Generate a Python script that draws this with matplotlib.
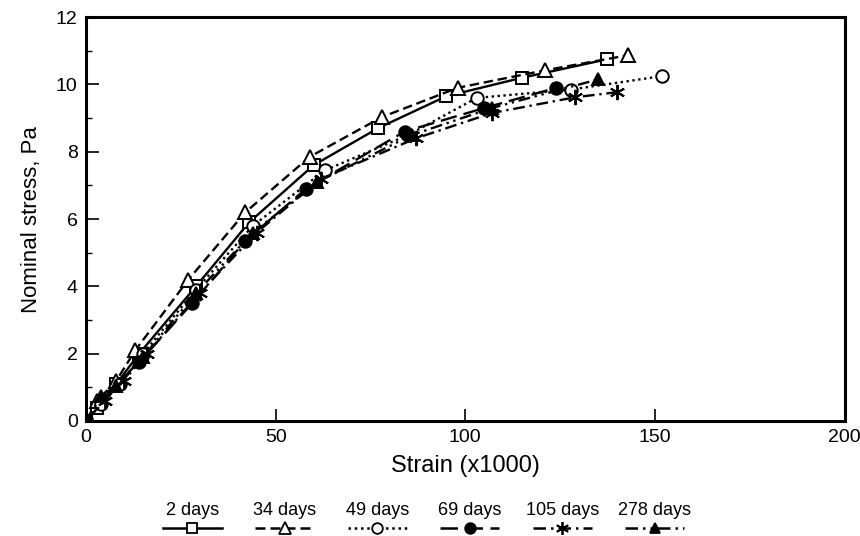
import matplotlib
matplotlib.use("Agg")
import matplotlib.pyplot as plt
from matplotlib.ticker import MultipleLocator

plt.rcParams['font.family'] = ['Liberation Sans', 'DejaVu Sans']

# ---- data ----
labels = ["2 days", "34 days", "49 days", "69 days", "105 days", "278 days"]

x_2 = [0, 3, 8, 14, 29, 43, 60, 77, 95, 115, 137.5]
y_2 = [0, 0.4, 1.1, 2.0, 4.0, 5.9, 7.6, 8.7, 9.65, 10.2, 10.75]

x_34 = [0, 3, 8, 13, 27, 42, 59, 78, 98, 121, 143]
y_34 = [0, 0.6, 1.2, 2.1, 4.2, 6.2, 7.85, 9.03, 9.9, 10.42, 10.87]

x_49 = [0, 4, 9, 15, 29, 44, 63, 85, 103, 128, 152]
y_49 = [0, 0.5, 1.1, 2.0, 3.9, 5.8, 7.45, 8.5, 9.6, 9.85, 10.25]

x_69 = [0, 14, 28, 42, 58, 84, 105, 124]
y_69 = [0, 1.75, 3.5, 5.35, 6.9, 8.6, 9.3, 9.9]

x_105 = [0, 5, 10, 16, 30, 45, 62, 87, 107, 129, 140]
y_105 = [0, 0.6, 1.2, 2.0, 3.8, 5.6, 7.2, 8.4, 9.15, 9.62, 9.77]

x_278 = [0, 4, 8, 15, 29, 44, 61, 86, 107, 135]
y_278 = [0, 0.75, 1.05, 1.9, 3.8, 5.6, 7.1, 8.5, 9.3, 10.15]

series_x = [x_2, x_34, x_49, x_69, x_105, x_278]
series_y = [y_2, y_34, y_49, y_69, y_105, y_278]

styles = [
    dict(ls='-', marker='s', mfc='white', ms=9),
    dict(ls=(0, (4, 2)), marker='^', mfc='white', ms=10),
    dict(ls=(0, (1, 1.5)), marker='o', mfc='white', ms=9),
    dict(ls=(0, (7, 3)), marker='o', mfc='black', ms=9),
    dict(ls=(0, (5, 2, 1, 2)), marker=(6, 2, 0), mfc='black', ms=11),
    dict(ls=(0, (5, 2, 1, 2, 1, 2)), marker='^', mfc='black', ms=9),
]

fig = plt.figure(figsize=(8.6, 5.36), dpi=100)
ax = fig.add_axes([0.1, 0.2146, 0.882, 0.7534])

for xs, ys, st in zip(series_x, series_y, styles):
    ax.plot(xs, ys, color='black', lw=1.7, mec='black', mew=1.4, **st)

ax.set_xlim(0, 200)
ax.set_ylim(0, 12)
ax.xaxis.set_major_locator(MultipleLocator(50))
ax.yaxis.set_major_locator(MultipleLocator(2))
ax.yaxis.set_minor_locator(MultipleLocator(1))
ax.tick_params(axis='both', which='major', direction='in', length=9, width=1.2,
               labelsize=14, top=False, right=False, pad=6)
ax.tick_params(axis='y', which='minor', direction='in', length=4, width=1.0, right=False)
for sp in ax.spines.values():
    sp.set_linewidth(2.2)
ax.set_xlabel("Strain (x1000)", fontsize=17, labelpad=6)
ax.set_ylabel("Nominal stress, Pa", fontsize=16, labelpad=10)

# ---- legend (text above, sample line below) ----
lax = fig.add_axes([0.17, 0.0, 0.645, 0.065])
lax.set_xlim(-0.5, 5.5)
lax.set_ylim(0, 1)
lax.axis('off')
for i, (lab, st) in enumerate(zip(labels, styles)):
    lax.text(i, 0.5, lab, ha='center', va='bottom', fontsize=13)
    s = dict(st)
    m = s.pop('marker'); mfc = s.pop('mfc'); ms = s.pop('ms')
    lax.plot([i - 0.32, i + 0.32], [0.22, 0.22], color='black', lw=1.8, **s)
    lax.plot([i], [0.22], marker=m, mfc=mfc, mec='black', ms=ms * 0.85, mew=1.3,
             color='black', ls='none')

fig.savefig("out.png", dpi=100)
